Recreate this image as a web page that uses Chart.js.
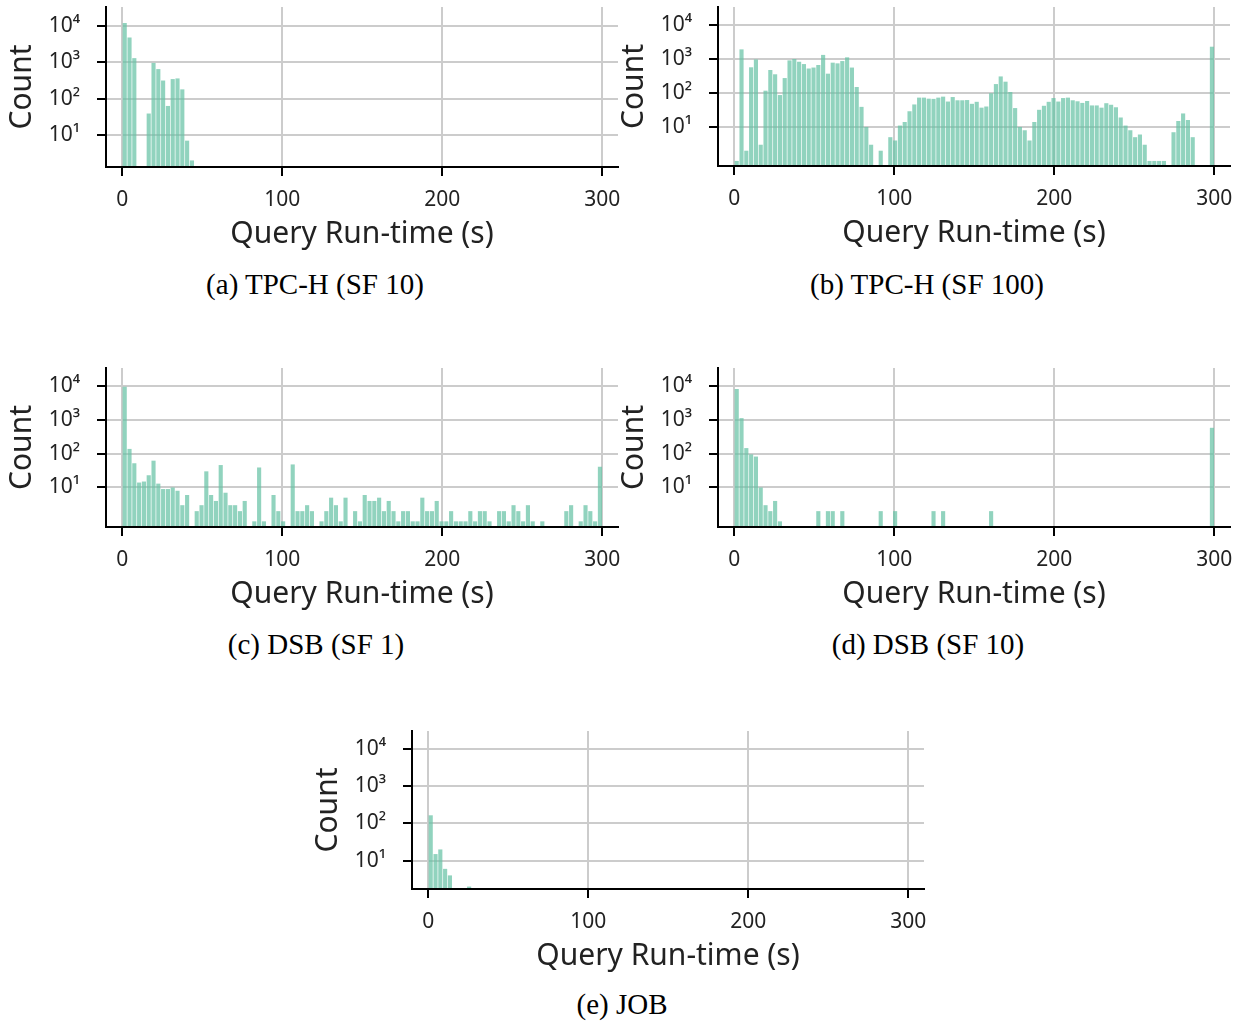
<!DOCTYPE html>
<html>
<head>
<meta charset="utf-8">
<title>Query run-time histograms</title>
<script src="https://cdn.jsdelivr.net/npm/chart.js@4.4.1/dist/chart.umd.min.js"></script>
<style>
  body { margin: 0; background: #fff; width: 1244px; height: 1022px; position: relative; overflow: hidden; }
  canvas { position: absolute; }
  .caption {
    position: absolute;
    font-family: "Liberation Serif", "DejaVu Serif", serif;
    font-size: 29px;
    color: #000;
    transform: translate(-50%, -50%);
    white-space: nowrap;
  }
</style>
</head>
<body>
<script>
// Histograms of query run-times, 3 s bins from 0 to 300 s (log count axis)
const BIN_WIDTH = 3;
const X_TICKS = [0, 100, 200, 300];
const Y_TICKS = [10, 100, 1000, 10000];
const Y_TICK_LABELS = ['10¹', '10²', '10³', '10⁴'];

// counts per bin, null = empty bin (trailing empty bins left out)
const tpchSf10 = [12100, 4800, 1300, null, null, 39, 960, 650, 315, 63, 345, 360, 180, 7, 2];

const tpchSf100 = [
  1, 1920, 2, 570, 970, 3, 117, 475, 355, 87,
  275, 910, 1000, 830, 710, 525, 560, 665, 1320, 370,
  780, 745, 870, 1120, 560, 150, 39, 10, 3, null,
  2, null, 5, 4, 11, 14, 29, 46, 73, 73,
  68, 67, 73, 78, 56, 76, 61, 61, 62, 48,
  55, 37, 40, 98, 183, 307, 215, 107, 36, 10,
  8, 4, 14, 32, 42, 55, 71, 56, 71, 73,
  61, 57, 51, 58, 43, 43, 37, 50, 45, 38,
  19, 11, 8, 5, 6, 3, 1, 1, 1, 1,
  null, 7, 15, 25, 16, 5, null, null, null, 2300
];

const dsbSf1 = [
  9500, 138, 52, 14, 15, 23, 62, 13, 9, 9,
  10, 8, 3, 6, null, 2, 3, 30, 6, 4,
  46, 7, 3, 3, 2, 4, null, 1, 39, 1,
  null, 6, 2, 1, null, 48, 2, 2, 3, 2,
  null, 1, 2, 5, 3, 1, 5, null, 2, 1,
  6, 4, 4, 5, 2, 4, 2, 1, 2, 2,
  1, 1, 5, 2, 2, 4, 1, 1, 2, 1,
  1, 1, 2, 1, 2, 2, 1, null, 2, 2,
  1, 3, 2, 1, 3, 1, null, 1, null, null,
  null, null, 2, 3, null, 1, 3, 2, 1, 41
];

const dsbSf10 = [
  8100, 1120, 146, 95, 82, 10, 3, 2, 4, 1,
  null, null, null, null, null, null, null, 2, null, 2,
  2, null, 2, null, null, null, null, null, null, null,
  2, null, null, 2, null, null, null, null, null, null,
  null, 2, null, 2, null, null, null, null, null, null,
  null, null, null, 2, null, null, null, null, null, null,
  null, null, null, null, null, null, null, null, null, null,
  null, null, null, null, null, null, null, null, null, null,
  null, null, null, null, null, null, null, null, null, null,
  null, null, null, null, null, null, null, null, null, 580
];

const job = [166, 15, 20, 6, 4, null, null, null, 2];

const BAR_COLOR = 'rgba(102, 194, 165, 0.72)';
const TEXT_COLOR = '#222';

Chart.defaults.font.family = '"Noto Sans", "Open Sans", sans-serif';
Chart.defaults.color = TEXT_COLOR;

// where each subplot sits on the page
const panels = [
  { counts: tpchSf10,  left: 0,   top: 0,   plotH: 160, yMin: 1.32, yMax: 33100, caption: '(a) TPC-H (SF 10)',  capX: 315, capY: 284 },
  { counts: tpchSf100, left: 612, top: 0,   plotH: 159, yMin: 0.71, yMax: 33900, caption: '(b) TPC-H (SF 100)', capX: 927, capY: 284 },
  { counts: dsbSf1,    left: 0,   top: 361, plotH: 159, yMin: 0.68, yMax: 33900, caption: '(c) DSB (SF 1)',     capX: 316, capY: 644 },
  { counts: dsbSf10,   left: 612, top: 361, plotH: 159, yMin: 0.68, yMax: 33900, caption: '(d) DSB (SF 10)',    capX: 928, capY: 644 },
  { counts: job,       left: 306, top: 724, plotH: 158, yMin: 1.72, yMax: 30900, caption: '(e) JOB',            capX: 622, capY: 1004 }
];

const Y_AXIS_W = 106;
const X_AXIS_H = 95;
const PAD_TOP = 7;
const CANVAS_W = 622;

function drawPanel(p) {
  const canvas = document.createElement('canvas');
  canvas.width = CANVAS_W;
  canvas.height = PAD_TOP + p.plotH + X_AXIS_H;
  canvas.style.left = p.left + 'px';
  canvas.style.top = p.top + 'px';
  document.body.appendChild(canvas);

  const cap = document.createElement('div');
  cap.className = 'caption';
  cap.textContent = p.caption;
  cap.style.left = p.capX + 'px';
  cap.style.top = p.capY + 'px';
  document.body.appendChild(cap);

  const points = p.counts.map((c, i) => ({ x: i * BIN_WIDTH + BIN_WIDTH / 2, y: c }));

  new Chart(canvas.getContext('2d'), {
    type: 'bar',
    data: {
      datasets: [{
        data: points,
        backgroundColor: BAR_COLOR,
        borderWidth: 0,
        categoryPercentage: 1,
        barPercentage: 0.86
      }]
    },
    options: {
      responsive: false,
      animation: false,
      layout: { padding: { top: PAD_TOP, left: 0, right: 4, bottom: 0 } },
      plugins: { legend: { display: false }, tooltip: { enabled: false } },
      scales: {
        x: {
          type: 'linear',
          min: -10.2,
          max: 309.8,
          bounds: 'data',
          offset: false,
          grid: { offset: false, color: '#cccccc', lineWidth: 2, tickColor: '#000', tickLength: 9, tickWidth: 2 },
          border: { display: true, color: '#000', width: 2, z: 1 },
          ticks: { font: { size: 21 }, padding: 11, maxRotation: 0, autoSkip: false },
          title: { display: true, text: 'Query Run-time (s)', font: { size: 30 }, padding: { top: 0, bottom: 10 } },
          afterBuildTicks: (scale) => { scale.ticks = X_TICKS.map(v => ({ value: v })); },
          afterFit: (scale) => { scale.height = X_AXIS_H; scale.paddingLeft = 0; scale.paddingRight = 0; }
        },
        y: {
          type: 'logarithmic',
          min: p.yMin,
          max: p.yMax,
          bounds: 'data',
          grid: { color: '#cccccc', lineWidth: 2, tickColor: '#000', tickLength: 9, tickWidth: 2 },
          border: { display: true, color: '#000', width: 2, z: 1 },
          ticks: {
            font: { size: 21 },
            padding: 17,
            callback: (v) => Y_TICK_LABELS[Y_TICKS.indexOf(v)]
          },
          title: { display: true, text: 'Count', font: { size: 30 }, padding: { top: 4, bottom: 0 } },
          afterBuildTicks: (scale) => { scale.ticks = Y_TICKS.map(v => ({ value: v })); },
          afterFit: (scale) => { scale.width = Y_AXIS_W; scale.paddingTop = 0; scale.paddingBottom = 0; }
        }
      }
    }
  });
}

panels.forEach(drawPanel);
</script>
</body>
</html>
